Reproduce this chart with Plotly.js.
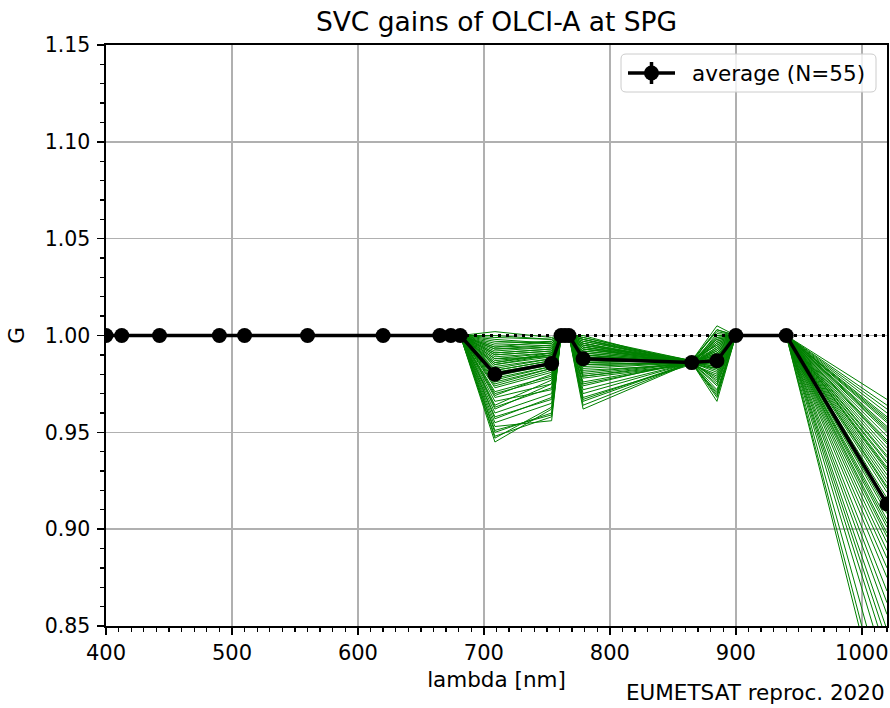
<!DOCTYPE html>
<html>
<head>
<meta charset="utf-8">
<script src="https://cdn.plot.ly/plotly-3.0.1.min.js"></script>
<style>html,body{margin:0;padding:0;background:#fff;}#chart{width:890px;height:708px;}</style>
</head>
<body>
<div id="chart"></div>
<script>
// OLCI band centre wavelengths [nm]
const wavelengths = [400, 412.5, 442.5, 490, 510, 560, 620, 665, 673.75, 681.25, 708.75, 753.75, 761.25, 764.375, 767.5, 778.75, 865, 885, 900, 940, 1020];
// average gain (N=55)
const avgGain = [1, 1, 1, 1, 1, 1, 1, 1, 1, 1, 0.980, 0.9855, 1, 1, 1, 0.988, 0.986, 0.987, 1, 1, 0.913];
// individual gains for the bands that differ from 1
const g709 = [0.991, 0.962, 0.985, 0.948, 0.997, 0.978, 0.969, 0.993, 0.957, 0.988, 0.982, 0.945, 0.999, 0.974, 0.986, 0.966, 0.994, 0.980, 0.953, 0.990, 0.971, 1.002, 0.984, 0.960, 0.992, 0.976, 0.987, 0.950, 0.996, 0.981, 0.964, 0.989, 0.973, 0.998, 0.983, 0.955, 0.993, 0.977, 0.968, 0.991, 0.985, 0.947, 0.995, 0.979, 0.970, 0.988, 0.958, 1.000, 0.975, 0.986, 0.963, 0.994, 0.982, 0.951, 0.990];
const g754 = [0.993, 0.975, 0.990, 0.958, 0.996, 0.984, 0.980, 0.995, 0.968, 0.989, 0.987, 0.962, 0.998, 0.982, 0.991, 0.972, 0.997, 0.986, 0.956, 0.992, 0.979, 0.999, 0.988, 0.970, 0.994, 0.983, 0.990, 0.960, 0.997, 0.986, 0.977, 0.991, 0.981, 0.996, 0.988, 0.965, 0.994, 0.984, 0.975, 0.993, 0.989, 0.963, 0.996, 0.985, 0.978, 0.991, 0.967, 0.998, 0.983, 0.990, 0.973, 0.995, 0.987, 0.959, 0.992];
const g779 = [0.995, 0.982, 0.992, 0.970, 0.998, 0.987, 0.979, 0.996, 0.975, 0.994, 0.990, 0.966, 0.999, 0.985, 0.989, 0.978, 0.997, 0.990, 0.962, 0.993, 0.984, 1.000, 0.991, 0.976, 0.995, 0.986, 0.993, 0.968, 0.998, 0.989, 0.980, 0.994, 0.985, 0.997, 0.990, 0.972, 0.996, 0.987, 0.981, 0.995, 0.992, 0.964, 0.998, 0.988, 0.983, 0.993, 0.974, 0.999, 0.986, 0.991, 0.979, 0.996, 0.989, 0.967, 0.994];
const g865 = [0.986, 0.985, 0.986, 0.986, 0.987, 0.986, 0.985, 0.986, 0.986, 0.986, 0.985, 0.986, 0.987, 0.986, 0.986, 0.985, 0.986, 0.986, 0.986, 0.987, 0.986, 0.985, 0.986, 0.986, 0.986, 0.987, 0.986, 0.985, 0.986, 0.986, 0.986, 0.985, 0.986, 0.987, 0.986, 0.986, 0.985, 0.986, 0.986, 0.987, 0.986, 0.986, 0.985, 0.986, 0.986, 0.986, 0.987, 0.986, 0.985, 0.986, 0.986, 0.986, 0.985, 0.986, 0.987];
const g885 = [0.998, 0.979, 0.992, 0.972, 1.003, 0.988, 0.983, 0.996, 0.977, 0.990, 0.993, 0.969, 1.005, 0.985, 0.994, 0.980, 0.999, 0.987, 0.966, 0.995, 0.984, 1.001, 0.989, 0.975, 0.997, 0.986, 0.991, 0.971, 1.000, 0.990, 0.981, 0.994, 0.983, 1.002, 0.992, 0.974, 0.996, 0.987, 0.982, 0.998, 0.990, 0.968, 0.999, 0.988, 0.984, 0.993, 0.976, 1.003, 0.986, 0.991, 0.978, 0.997, 0.989, 0.970, 0.995];
const g1020 = [0.962, 0.905, 0.930, 0.842, 0.957, 0.921, 0.889, 0.948, 0.868, 0.935, 0.916, 0.792, 0.967, 0.898, 0.940, 0.880, 0.953, 0.926, 0.812, 0.944, 0.901, 0.958, 0.932, 0.856, 0.950, 0.910, 0.938, 0.826, 0.955, 0.924, 0.885, 0.942, 0.903, 0.960, 0.928, 0.848, 0.946, 0.914, 0.893, 0.951, 0.934, 0.800, 0.956, 0.919, 0.896, 0.937, 0.862, 0.964, 0.908, 0.931, 0.875, 0.952, 0.922, 0.835, 0.945];
const refLineX = [400, 1020];
const refLineY = [1, 1];
const legendLabel = 'average (N=55)';

const varying = {708.75: g709, 753.75: g754, 778.75: g779, 865: g865, 885: g885, 1020: g1020};

const traces = [];
for (let i = 0; i < g709.length; i++) {
  traces.push({
    x: wavelengths,
    y: wavelengths.map(w => varying[w] ? varying[w][i] : 1),
    mode: 'lines', type: 'scatter', showlegend: false, hoverinfo: 'skip',
    line: {color: '#008000', width: 1}
  });
}
traces.push({
  x: refLineX, y: refLineY, mode: 'lines', type: 'scatter', showlegend: false,
  line: {color: 'black', width: 2.8, dash: '3px,5px'}
});
traces.push({
  x: wavelengths, y: avgGain, mode: 'lines+markers', type: 'scatter',
  name: legendLabel, showlegend: false,
  line: {color: 'black', width: 3.5},
  marker: {color: 'black', size: 15, symbol: 'circle'}
});

// plot area in pixels (for placing the legend box decoration)
const M = {l: 106, r: 3, t: 45, b: 82}, W = 890, H = 708;
const pw = W - M.l - M.r, ph = H - M.t - M.b;
const px = v => (v - M.l) / pw;
const py = v => 1 - (v - M.t) / ph;
function roundRect(x0, y0, x1, y1, r) {
  const rx = r / pw, ry = r / ph;
  const X0 = px(x0), X1 = px(x1), Y0 = py(y0), Y1 = py(y1);
  return `M${X0 + rx},${Y0} L${X1 - rx},${Y0} Q${X1},${Y0} ${X1},${Y0 - ry} L${X1},${Y1 + ry} Q${X1},${Y1} ${X1 - rx},${Y1} L${X0 + rx},${Y1} Q${X0},${Y1} ${X0},${Y1 + ry} L${X0},${Y0 - ry} Q${X0},${Y0} ${X0 + rx},${Y0} Z`;
}

const axisCommon = {
  showline: true, mirror: true, linecolor: 'black', linewidth: 1.6,
  ticks: 'outside', ticklen: 7, tickwidth: 1.6, tickcolor: 'black',
  showgrid: true, gridcolor: '#b0b0b0', gridwidth: 1.5,
  zeroline: false
};

const layout = {
  width: W, height: H,
  margin: M,
  paper_bgcolor: 'white', plot_bgcolor: 'white',
  font: {family: 'DejaVu Sans', color: 'black'},
  showlegend: false,
  title: {text: 'SVC gains of OLCI-A at SPG', font: {size: 26.5, color: 'black'},
          x: 0.5, xref: 'paper', xanchor: 'center', y: 0.969, yref: 'container', yanchor: 'middle'},
  xaxis: Object.assign({}, axisCommon, {
    range: [400, 1020], dtick: 100, tick0: 0,
    tickfont: {size: 21, color: 'black'},
    minor: {dtick: 10, tick0: 0, ticks: 'outside', ticklen: 4, tickwidth: 1.3, tickcolor: 'black', showgrid: false},
    title: {text: 'lambda [nm]', font: {size: 21.5, color: 'black'}, standoff: 8}
  }),
  yaxis: Object.assign({}, axisCommon, {
    range: [0.85, 1.15], dtick: 0.05, tick0: 0, tickformat: '.2f',
    tickfont: {size: 20.5, color: 'black'}, ticklabelstandoff: 3,
    minor: {dtick: 0.01, tick0: 0, ticks: 'outside', ticklen: 4, tickwidth: 1.3, tickcolor: 'black', showgrid: false},
    title: {text: 'G', font: {size: 21.5, color: 'black'}, standoff: 14}
  }),
  shapes: [
    {type: 'path', xref: 'paper', yref: 'paper', path: roundRect(621, 54, 876, 92, 5),
     fillcolor: 'rgba(255,255,255,0.8)', line: {color: '#cccccc', width: 1}, layer: 'above'},
    {type: 'line', xref: 'paper', yref: 'paper', x0: px(628), x1: px(675), y0: py(73), y1: py(73),
     line: {color: 'black', width: 3.5}, layer: 'above'},
    {type: 'line', xref: 'paper', yref: 'paper', x0: px(651.5), x1: px(651.5), y0: py(62), y1: py(84),
     line: {color: 'black', width: 3.5}, layer: 'above'},
    {type: 'circle', xref: 'paper', yref: 'paper', x0: px(644), x1: px(659), y0: py(65.5), y1: py(80.5),
     fillcolor: 'black', line: {color: 'black', width: 0}, layer: 'above'}
  ],
  annotations: [
    {text: legendLabel, xref: 'paper', yref: 'paper', x: px(690), y: py(73),
     xanchor: 'left', yanchor: 'middle', showarrow: false, font: {size: 21.5, color: 'black'}},
    {text: 'EUMETSAT reproc. 2020', xref: 'paper', yref: 'paper', x: 1, y: -0.114,
     xanchor: 'right', yanchor: 'middle', showarrow: false, font: {size: 21.5, color: 'black'}}
  ]
};

Plotly.newPlot('chart', traces, layout, {displayModeBar: false, staticPlot: true});
</script>
</body>
</html>
